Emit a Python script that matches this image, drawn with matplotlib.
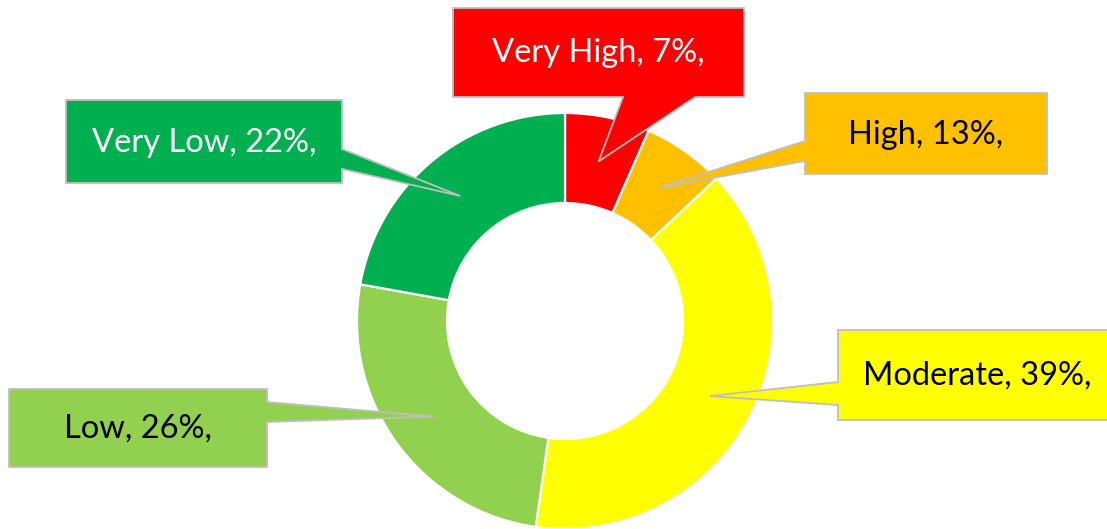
import matplotlib
matplotlib.use("Agg")
import matplotlib.pyplot as plt
import numpy as np
from matplotlib.patches import Polygon

# DATA ########################################################################
categories = ["Very High", "High", "Moderate", "Low", "Very Low"]
shares = [6.6, 6.4, 39.3, 25.6, 22.2]          # slice sizes as drawn
label_pcts = ["7%", "13%", "39%", "26%", "22%"]  # percentages printed in callouts
colors = ["#FF0000", "#FFC000", "#FFFF00", "#92D050", "#00B050"]
text_colors = ["white", "black", "black", "black", "white"]

# LAYOUT (pixels, origin top-left) ############################################
W, H = 1107, 529
center_px = (565, 321)
outer_r = 208
ring_w = 90
# box: left, top, right, bottom ; pointer side and base range along that side
callouts = [
    dict(box=(453, 8, 744, 97), side="bottom", base=(623, 695)),
    dict(box=(805, 93, 1047, 174), side="left", base=(141, 161)),
    dict(box=(838, 330, 1116, 420), side="left", base=(382, 405)),
    dict(box=(9, 389, 267, 467), side="right", base=(402, 422)),
    dict(box=(66, 100, 342, 183), side="right", base=(149, 169)),
]


def up(y):
    # top-based pixel y -> axes y
    return H - y


fig = plt.figure(figsize=(W / 100, H / 100), dpi=100)
ax = fig.add_axes([0, 0, 1, 1])

wedges, _ = ax.pie(shares,
                   colors=colors,
                   startangle=90,
                   counterclock=False,
                   radius=outer_r,
                   center=(center_px[0], up(center_px[1])),
                   wedgeprops=dict(width=ring_w, edgecolor="white", linewidth=1.6))

ax.set_xlim(0, W)
ax.set_ylim(0, H)
ax.set_aspect("auto")
ax.axis("off")

for i, (w, c) in enumerate(zip(wedges, callouts)):
    # pointer tip at the middle of the ring segment
    mid = np.deg2rad((w.theta1 + w.theta2) / 2)
    rr = w.r - w.width / 2
    tip = (w.center[0] + rr * np.cos(mid), w.center[1] + rr * np.sin(mid))

    l, t, r, b = c["box"]
    b0, b1 = c["base"]
    if c["side"] == "bottom":
        pts = [(l, t), (r, t), (r, b), (b1, b), tip, (b0, b), (l, b)]
    elif c["side"] == "left":
        pts = [(l, t), (r, t), (r, b), (l, b), (l, b1), tip, (l, b0)]
    else:
        pts = [(l, t), (r, t), (r, b0), tip, (r, b1), (r, b), (l, b)]
    pts = [(p[0], up(p[1])) if p is not tip else p for p in pts]
    ax.add_patch(Polygon(pts, closed=True, facecolor=colors[i],
                         edgecolor="#BFBFBF", linewidth=1.3, zorder=3,
                         clip_on=False))
    ax.text((l + r) / 2, up((t + b) / 2 + 1), f"{categories[i]}, {label_pcts[i]},",
            ha="center", va="center", fontsize=23.5, family="Lato",
            color=text_colors[i], zorder=4, clip_on=False)

fig.savefig("out.png", dpi=100)
